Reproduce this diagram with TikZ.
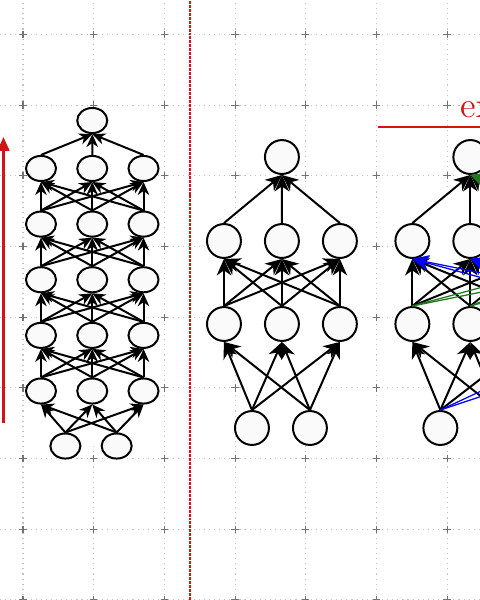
\documentclass[tikz,border=0pt]{standalone}
\usetikzlibrary{arrows.meta,shapes.geometric,backgrounds}

\definecolor{gridgray}{gray}{0.76}
\definecolor{crossgray}{gray}{0.45}
\definecolor{markred}{RGB}{210,20,20}
\definecolor{skipgreen}{RGB}{30,120,30}

\tikzstyle{unit} = [circle, draw, fill=black!2, line width=0.8pt,
    minimum size=0.48cm, inner sep=0pt]
\tikzstyle{smallunit} = [ellipse, draw, fill=black!2, line width=0.8pt,
    minimum width=0.425cm, minimum height=0.355cm, inner sep=0pt]
\tikzstyle{wire} = [->, >={Stealth[length=6.6pt,width=5.8pt,inset=2pt]}]
\tikzstyle{smallwire} = [->, >={Stealth[length=5.2pt,width=4.6pt,inset=1.6pt]}]
\tikzstyle{skipwire} = [wire, line width=0.5pt]
\tikzstyle{gridline} = [draw=gridgray, line width=0.45pt, dash pattern=on 0.45pt off 1.6pt]
\tikzstyle{crossmark} = [draw=crossgray, line width=0.45pt]

\begin{document}
\begin{tikzpicture}[line width=0.8pt, node distance=0.82cm]
  \useasboundingbox (-0.325,0) rectangle (6.464,8.487);
  \clip (-0.325,0) rectangle (6.464,8.487);

  % deep narrow net
  \begin{scope}[node distance=0.725cm]
    \node[smallunit] (a01) at (0.60,2.178) {};
    \node[smallunit] (a02) [right of=a01] {};
    \foreach \l in {1,...,5} {
      \node[smallunit] (a\l1) at (0.255,{2.956+0.787*(\l-1)}) {};
      \node[smallunit] (a\l2) [right of=a\l1] {};
      \node[smallunit] (a\l3) [right of=a\l2] {};
    }
    \node[smallunit] (aout) at (0.98,6.782) {};
  \end{scope}

  \foreach \i in {1,2} \foreach \k in {1,2,3}
    \draw[smallwire] (a0\i.north) -- (a1\k.south);
  \foreach \l/\m in {1/2,2/3,3/4,4/5} \foreach \j in {1,2,3} \foreach \k in {1,2,3}
    \draw[smallwire] (a\l\j.north) -- (a\m\k.south);
  \foreach \j in {1,2,3}
    \draw[smallwire] (a5\j.north) -- (aout.south);

  % shallow net
  \node[unit] (b01) at (3.239,2.433) {};
  \node[unit] (b02) [right of=b01] {};
  \node[unit] (b11) at (2.843,3.904) {};
  \node[unit] (b12) [right of=b11] {};
  \node[unit] (b13) [right of=b12] {};
  \node[unit] (b21) at (2.843,5.078) {};
  \node[unit] (b22) [right of=b21] {};
  \node[unit] (b23) [right of=b22] {};
  \node[unit] (bout) at (3.663,6.266) {};

  % same net, with the added units off to the right
  \node[unit] (c01) at (5.904,2.433) {};
  \node[unit] (c02) [right of=c01] {};
  \node[unit] (c11) at (5.508,3.904) {};
  \node[unit] (c12) [right of=c11] {};
  \node[unit] (c13) [right of=c12] {};
  \node[unit] (c21) at (5.508,5.078) {};
  \node[unit] (c22) [right of=c21] {};
  \node[unit] (c23) [right of=c22] {};
  \node[unit] (cout) at (6.328,6.266) {};
  \coordinate (xs14) at (7.968,3.649); \coordinate (xn14) at (7.968,4.159);
  \coordinate (xs15) at (8.788,3.649); \coordinate (xn15) at (8.788,4.159);
  \coordinate (xs24) at (7.968,4.823); \coordinate (xn24) at (7.968,5.333);
  \coordinate (xs25) at (8.788,4.823); \coordinate (xn25) at (8.788,5.333);

  \foreach \n in {b,c} {
    \foreach \i in {1,2} \foreach \k in {1,2,3}
      \draw[wire] (\n0\i.north) -- (\n1\k.south);
    \foreach \j in {1,2,3} \foreach \k in {1,2,3}
      \draw[wire] (\n1\j.north) -- (\n2\k.south);
  }
  \foreach \j in {1,2,3} {
    \draw[wire] (b2\j.north) -- (bout.south);
    \draw[wire] (c2\j.north) -- (cout.south);
  }

  \foreach \i in {1,2} \foreach \e in {4,5}
    \draw[skipwire, blue] (c0\i.north) -- (xs1\e);
  \foreach \e in {4,5} \foreach \k in {1,2,3}
    \draw[skipwire, blue] (xn1\e) -- (c2\k.south);
  \foreach \j in {1,2,3} \foreach \e in {4,5}
    \draw[skipwire, skipgreen] (c1\j.north) -- (xs2\e);
  \foreach \e in {4,5}
    \draw[skipwire, skipgreen] (xn2\e) -- (cout.south);

  % red marks
  \coordinate (depthfoot) at (-0.276,2.503);
  \coordinate (depthtip) at (-0.276,6.549);
  \draw[markred, line width=0.9pt, -{Triangle[length=5.6pt,width=4.8pt]}] (depthfoot) -- (depthtip);
  \coordinate (splitbot) at (2.362,0);
  \coordinate (splittop) at (2.362,8.487);
  \draw[markred, line width=0.6pt, dash pattern=on 1.2pt off 0.4pt] (splitbot) -- (splittop);
  \coordinate (barleft) at (5.02,6.69);
  \coordinate (barright) at (6.6,6.69);
  \draw[markred, line width=0.6pt] (barleft) -- (barright);
  \node[markred, anchor=base west, inner sep=0pt, font=\Large] (extag) at (6.18,6.83) {ex};

  % grid and masks behind the nets
  \begin{scope}[on background layer]
    \draw[gridline] (-0.325,0) grid (6.464,8.487);
    \foreach \x in {0,...,6} \foreach \y in {0,...,8}
      \draw[crossmark] (\x-0.052,\y) -- (\x+0.052,\y) (\x,\y-0.052) -- (\x,\y+0.052);
    \fill[white] (a01.center) -- (a11.center) -- (a51.center) -- (aout.center)
      -- (a53.center) -- (a13.center) -- (a02.center) -- cycle;
    \fill[white] (b01.center) -- (b11.center) -- (b21.center) -- (bout.center)
      -- (b23.center) -- (b13.center) -- (b02.center) -- cycle;
    \fill[white] (c01.center) -- (c11.center) -- (c21.center) -- (cout.center)
      -- (c23.center) -- (c13.center) -- (c02.center) -- cycle;
  \end{scope}
\end{tikzpicture}
\end{document}
